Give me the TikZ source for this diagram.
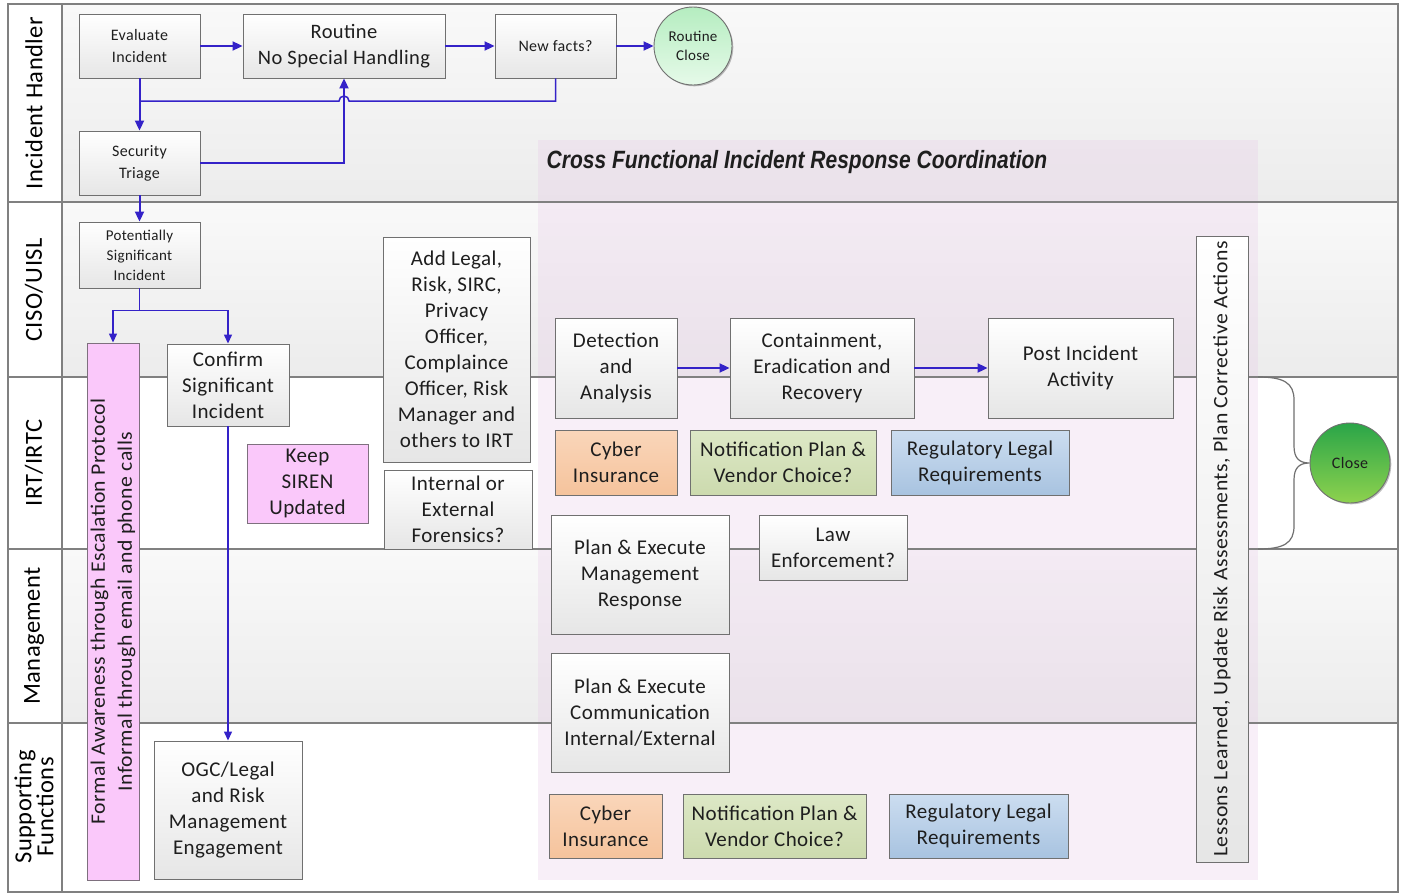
\documentclass[tikz,border=0pt]{standalone}
\usepackage{fontspec}
\setmainfont{Carlito}[LetterSpace=2]
\newfontfamily\titlefont{Liberation Sans}
\usepackage{graphicx}
\usetikzlibrary{arrows.meta,shadows,calc}
\newcommand\setfs[2]{\fontsize{#1}{#2}\selectfont}
\definecolor{arr}{HTML}{3422C8}
\definecolor{txt}{HTML}{1E1E1E}
\definecolor{boxborder}{HTML}{707070}
\definecolor{boxbot}{HTML}{E6E6E6}
\definecolor{lanegrayT}{HTML}{F9F9F9}
\definecolor{lanegrayB}{HTML}{ECECEC}
\definecolor{laneline}{HTML}{808080}
\definecolor{purp}{HTML}{E6C3E6}
\definecolor{pinkfill}{HTML}{FAC8FA}
\definecolor{pinkborder}{HTML}{7E707E}
\definecolor{orangeT}{HTML}{FAD6BA}
\definecolor{orangeB}{HTML}{F5C39C}
\definecolor{greenT}{HTML}{DDE8C6}
\definecolor{greenB}{HTML}{CCDAAE}
\definecolor{blueT}{HTML}{CCDDF0}
\definecolor{blueB}{HTML}{A8C3E0}
\definecolor{rcT}{HTML}{B5EDC0}
\definecolor{rcB}{HTML}{E6FAE9}
\definecolor{clT}{HTML}{2AA548}
\definecolor{clB}{HTML}{8ED24E}
\begin{document}
\begin{tikzpicture}[x=1pt,y=-1pt,
  box/.style={draw=boxborder, line width=0.9pt, top color=white, bottom color=boxbot,
    inner sep=0pt, align=center, text=txt, font=\setfs{21}{26},
    drop shadow={shadow xshift=1.3pt, shadow yshift=-1.3pt, opacity=0.25, fill=black}},
  pinkbox/.style={box, top color=pinkfill, bottom color=pinkfill, draw=pinkborder},
  orangebox/.style={box, top color=orangeT, bottom color=orangeB},
  greenbox/.style={box, top color=greenT, bottom color=greenB},
  bluebox/.style={box, top color=blueT, bottom color=blueB},
  smallbox/.style={box, font=\setfs{16}{22}},
  lanelab/.style={rotate=90, font=\setfs{24.5}{22}, text=black, align=center, inner sep=0pt},
  rottext/.style={rotate=90, xscale=1.06, font=\setfs{20.5}{27}, text=txt, align=center, inner sep=0pt},
  arrowA/.style={draw=arr, line width=2pt, -{Triangle[length=10pt,width=9pt]}},
  arrowB/.style={draw=arr, line width=1.3pt, -{Triangle[length=9pt,width=8pt]}},
  lineB/.style={draw=arr, line width=1.5pt},
  laneborder/.style={draw=laneline, line width=1.4pt},
  brace/.style={draw=boxborder, line width=1.2pt}
]
\useasboundingbox (0,0) rectangle (1403,894);
\fill[white] (0,0) rectangle (1403,894);
% lane backgrounds
\shade[top color=lanegrayT, bottom color=lanegrayB] (62,4) rectangle (1398,202);
\shade[top color=lanegrayT, bottom color=lanegrayB] (62,202) rectangle (1398,377);
\fill[white] (62,377) rectangle (1398,549);
\shade[top color=lanegrayT, bottom color=lanegrayB] (62,549) rectangle (1398,723);
\fill[white] (62,723) rectangle (1398,892);
% coordination region
\fill[purp, opacity=0.25] (538,140) rectangle (1258,880);
% lane borders
\draw[laneborder] (8,4) rectangle (1398,892);
\draw[laneborder] (62,4) -- (62,892);
\foreach \yy in {202,377,549,723} { \draw[laneborder] (8,\yy) -- (1398,\yy); }
% lane labels
\node[lanelab] (lIH) at (34,103) {Incident Handler};
\node[lanelab] (lCI) at (34,290) {CISO/UISL};
\node[lanelab] (lIR) at (34,463) {IRT/IRTC};
\node[lanelab] (lMG) at (34,636) {Management};
\node[lanelab] (lSF) at (34,807) {Supporting\\Functions};
% title
\node[font=\titlefont\bfseries\itshape\setfs{25}{30}, text=txt, inner sep=0pt] (title) at (797,162)
  {\scalebox{0.84}[1]{Cross Functional Incident Response Coordination}};
% incident handler lane
\node[smallbox, minimum width=121pt, minimum height=64pt] (eval) at (139.5,46) {Evaluate\\Incident};
\node[box, minimum width=202pt, minimum height=64pt, font=\setfs{20.5}{26}] (routine) at (344,46) {Routine\\No Special Handling};
\node[smallbox, minimum width=121pt, minimum height=64pt] (newfacts) at (555.5,46) {New facts?};
\node[circle, draw=boxborder, line width=0.9pt, minimum size=78pt, inner sep=0pt, top color=rcT, bottom color=rcB,
  align=center, text=txt, font=\setfs{15}{19},
  drop shadow={shadow xshift=1.3pt, shadow yshift=-1.3pt, opacity=0.25, fill=black}] (rclose) at (693,46) {Routine\\Close};
\node[smallbox, minimum width=121pt, minimum height=64pt] (triage) at (139.5,163) {Security\\Triage};
% CISO lane
\node[box, minimum width=121pt, minimum height=66pt, font=\setfs{15}{20}] (psi) at (139.5,255) {Potentially\\Significant\\Incident};
\node[pinkbox, minimum width=52pt, minimum height=537pt] (pink) at (113,611.5) {};
\node[rottext] (pinkT) at (pink.center) {Formal Awareness through Escalation Protocol\\Informal through email and phone calls};
\node[box, minimum width=122pt, minimum height=82pt] (confirm) at (228,385) {Confirm\\Significant\\Incident};
\node[pinkbox, minimum width=121pt, minimum height=79pt] (siren) at (307.5,483.5) {Keep\\SIREN\\Updated};
\node[box, minimum width=147pt, minimum height=225pt] (addlegal) at (456.5,349.5)
  {Add Legal,\\Risk, SIRC,\\Privacy\\Officer,\\Complaince\\Officer, Risk\\Manager and\\others to IRT};
\node[box, minimum width=148pt, minimum height=79pt] (forensics) at (458,509.5) {Internal or\\External\\Forensics?};
\node[box, minimum width=148pt, minimum height=138pt] (ogc) at (228,810) {OGC/Legal\\and Risk\\Management\\Engagement};
% coordination
\node[box, minimum width=122pt, minimum height=100pt] (detect) at (616,368) {Detection\\and\\Analysis};
\node[box, minimum width=184pt, minimum height=100pt] (contain) at (822,368) {Containment,\\Eradication and\\Recovery};
\node[box, minimum width=185pt, minimum height=100pt] (post) at (1080.5,368) {Post Incident\\Activity};
\node[orangebox, minimum width=122pt, minimum height=65pt] (cyber1) at (616,462.5) {Cyber\\Insurance};
\node[greenbox, minimum width=186pt, minimum height=65pt] (notif1) at (783,462.5) {Notification Plan \&\\Vendor Choice?};
\node[bluebox, minimum width=178pt, minimum height=65pt] (reg1) at (980,462.5) {Regulatory Legal\\Requirements};
\node[box, minimum width=178pt, minimum height=119pt] (planmgmt) at (640,574.5) {Plan \& Execute\\Management\\Response};
\node[box, minimum width=148pt, minimum height=65pt] (law) at (833,547.5) {Law\\Enforcement?};
\node[box, minimum width=178pt, minimum height=119pt] (plancomm) at (640,712.5) {Plan \& Execute\\Communication\\Internal/External};
\node[orangebox, minimum width=113pt, minimum height=64pt] (cyber2) at (605.5,826) {Cyber\\Insurance};
\node[greenbox, minimum width=183pt, minimum height=64pt] (notif2) at (774.5,826) {Notification Plan \&\\Vendor Choice?};
\node[bluebox, minimum width=179pt, minimum height=64pt] (reg2) at (978.5,826) {Regulatory Legal\\Requirements};
\node[box, minimum width=52pt, minimum height=626pt] (lessons) at (1222,549) {};
\node[rottext] (lessonsT) at (lessons.center) {Lessons Learned, Update Risk Assessments, Plan Corrective Actions};
\node[circle, draw=boxborder, line width=0.9pt, minimum size=80pt, inner sep=0pt, top color=clT, bottom color=clB,
  text=txt, font=\setfs{16}{19},
  drop shadow={shadow xshift=1.3pt, shadow yshift=-1.3pt, opacity=0.25, fill=black}] (close) at (1350,463) {Close};
% brace
\coordinate (braceTop) at (1258,377);
\coordinate (braceBot) at (1258,549);
\draw[brace] (braceTop) .. controls (1284,377) and (1294,383) .. (1294,400) -- (1294,446)
  .. controls (1294,458) and (1299,463) .. (close.west)
  .. controls (1299,463) and (1294,468) .. (1294,480) -- (1294,526)
  .. controls (1294,543) and (1284,549) .. (braceBot);
% connectors
\coordinate (hopR) at (349,101);
\draw[arrowA] (eval.east) -- (routine.west);
\draw[arrowA] (routine.east) -- (newfacts.west);
\draw[arrowA] (newfacts.east) -- (rclose.west);
\draw[arrowA] (eval.south) -- (triage.north);
\draw[lineB] (newfacts.south) |- (hopR) arc[start angle=0, end angle=-180, radius=5] -- (eval.south |- hopR);
\draw[arrowA] (triage.east) -| (routine.south);
\draw[arrowA] (triage.south) -- (psi.north);
\coordinate (split) at ($(psi.south)+(0,22)$);
\draw[lineB] (psi.south) -- (split);
\draw[arrowB] (split) -| (pink.north);
\draw[arrowB] (split) -| (confirm.north);
\draw[arrowB] (confirm.south) -- (ogc.north);
\draw[arrowA] (detect.east) -- (contain.west);
\draw[arrowA] (contain.east) -- (post.west);
\end{tikzpicture}
\end{document}
